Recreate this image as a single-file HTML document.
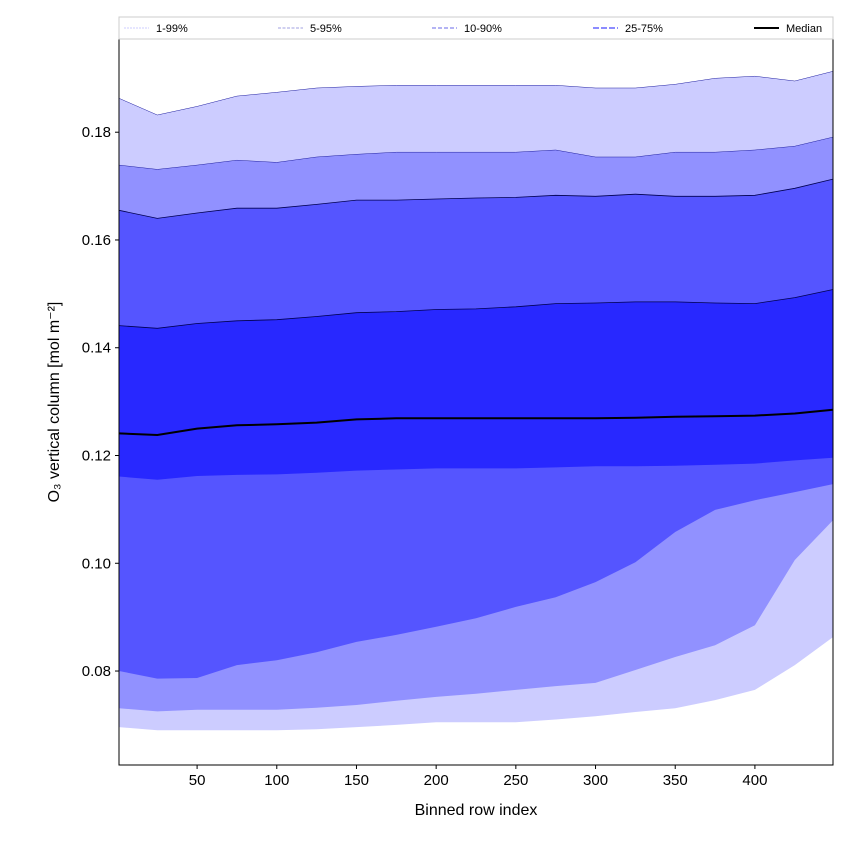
<!DOCTYPE html>
<html><head><meta charset="utf-8"><style>
body{margin:0;background:#fff;}
svg text{font-family:"Liberation Sans","DejaVu Sans",sans-serif;}
</style></head><body>
<svg id="chart" width="850" height="850" xmlns="http://www.w3.org/2000/svg">
<rect width="850" height="850" fill="#fff"/>
<g id="bands"></g>
<g id="axes"></g>
<g id="legend"></g>
</svg>
<script>
const xs = [1,25,50,75,100,125,150,175,200,225,250,275,300,325,350,375,400,425,449];
const p99 = [.1863,.1832,.1848,.1867,.1874,.1882,.1885,.1887,.1887,.1887,.1887,.1887,.1882,.1882,.1889,.1900,.1904,.1895,.1913];
const p95 = [.1739,.1731,.1739,.1748,.1744,.1754,.1759,.1763,.1763,.1763,.1763,.1767,.1754,.1754,.1763,.1763,.1767,.1774,.1791];
const p90 = [.1655,.1640,.1650,.1659,.1659,.1666,.1674,.1674,.1676,.1678,.1679,.1683,.1681,.1685,.1681,.1681,.1683,.1696,.1713];
const p75 = [.1441,.1436,.1445,.1450,.1452,.1458,.1465,.1467,.1471,.1472,.1476,.1482,.1483,.1485,.1485,.1483,.1482,.1493,.1508];
const median = [.1241,.1238,.1250,.1256,.1258,.1261,.1267,.1269,.1269,.1269,.1269,.1269,.1269,.1270,.1272,.1273,.1274,.1278,.1285];
const p25 = [.1161,.1155,.1162,.1164,.1165,.1168,.1172,.1174,.1176,.1176,.1176,.1178,.1180,.1180,.1181,.1183,.1185,.1191,.1196];
const p10 = [.0800,.0786,.0787,.0811,.0820,.0835,.0854,.0867,.0882,.0898,.0919,.0937,.0965,.1002,.1058,.1099,.1117,.1132,.1147];
const p5 = [.0731,.0725,.0728,.0728,.0728,.0732,.0737,.0745,.0752,.0758,.0765,.0772,.0778,.0802,.0826,.0848,.0885,.1006,.1080];
const p1 = [.0696,.0690,.0690,.0690,.0690,.0692,.0696,.0700,.0705,.0705,.0705,.0710,.0716,.0724,.0731,.0746,.0765,.0811,.0863];
const xTicks = [50,100,150,200,250,300,350,400];
const yTicks = [0.08,0.10,0.12,0.14,0.16,0.18];
const legendLabels = ["1-99%","5-95%","10-90%","25-75%","Median"];

const NS="http://www.w3.org/2000/svg";
const L=119,R=833,T=39,B=765;
const xMin=1,xMax=449,yMin=0.06256,yMax=0.1973;
const X=v=>L+(v-xMin)/(xMax-xMin)*(R-L);
const Y=v=>B-(v-yMin)/(yMax-yMin)*(B-T);
function mk(tag,attrs,parent){const e=document.createElementNS(NS,tag);for(const k in attrs)e.setAttribute(k,attrs[k]);parent.appendChild(e);return e;}
const bands=document.getElementById('bands');
function band(lo,hi,color,name){
  let d="M"+xs.map((x,i)=>X(x).toFixed(1)+","+Y(hi[i]).toFixed(1)).join("L");
  for(let i=xs.length-1;i>=0;i--)d+="L"+X(xs[i]).toFixed(1)+","+Y(lo[i]).toFixed(1);
  const p=mk('path',{d:d+"Z",fill:color,stroke:'none'},bands);
  
  
}
function line(arr,color,w,name){
  const p=mk('path',{d:"M"+xs.map((x,i)=>X(x).toFixed(1)+","+Y(arr[i]).toFixed(1)).join("L"),fill:'none',stroke:color,'stroke-width':w},bands);
  
  
}
band(p1,p99,'#ccccff','band-1-99');
band(p5,p95,'#9191ff','band-5-95');
band(p10,p90,'#5555ff','band-10-90');
band(p25,p75,'#2828ff','band-25-75');
line(p99,'#2020a0',0.5,'line-p99');
line(p95,'#2020a0',0.5,'line-p95');
line(p90,'#000050',0.8,'line-p90');
line(p75,'#000050',0.8,'line-p75');
line(median,'#000',2,'median-line');

const ax=document.getElementById('axes');
mk('rect',{x:L,y:T,width:R-L,height:B-T,fill:'none',stroke:'#000','stroke-width':1},ax);
xTicks.forEach(t=>{
  mk('line',{x1:X(t),x2:X(t),y1:B,y2:B+4,stroke:'#000'},ax);
  const tx=mk('text',{x:X(t),y:B+20,'text-anchor':'middle','font-size':15},ax);tx.textContent=t;
  
  
});
yTicks.forEach(t=>{
  mk('line',{x1:L-4,x2:L,y1:Y(t),y2:Y(t),stroke:'#000'},ax);
  const tx=mk('text',{x:L-8,y:Y(t)+5,'text-anchor':'end','font-size':15},ax);tx.textContent=t.toFixed(2);
  
  
});
const xt=mk('text',{x:(L+R)/2,y:815,'text-anchor':'middle','font-size':16},ax);xt.textContent="Binned row index";


const yt=mk('text',{x:0,y:0,'text-anchor':'middle','font-size':16,transform:`translate(59,${(T+B)/2}) rotate(-90)`},ax);yt.textContent="O₃ vertical column [mol m⁻²]";



const lg=document.getElementById('legend');
mk('rect',{x:119,y:17,width:714,height:22,fill:'#fff',stroke:'#ccc','stroke-width':1},lg);
const lx=[124,278,432,593,754];
const lc=['#ccccff','#a0a0e0','#8888ee','#6666ff','#000'];
const ld=['2,1','3,1.5','4,2','6,2','none'];
const lw=[1,1,1.3,1.6,2];
legendLabels.forEach((s,i)=>{
  const g=mk('g',{},lg);
  
  
  mk('line',{x1:lx[i],x2:lx[i]+25,y1:28,y2:28,stroke:lc[i],'stroke-width':lw[i],'stroke-dasharray':ld[i]},g);
  const t=mk('text',{x:lx[i]+32,y:32,'font-size':11},g);t.textContent=s;
});
</script>
</body></html>
